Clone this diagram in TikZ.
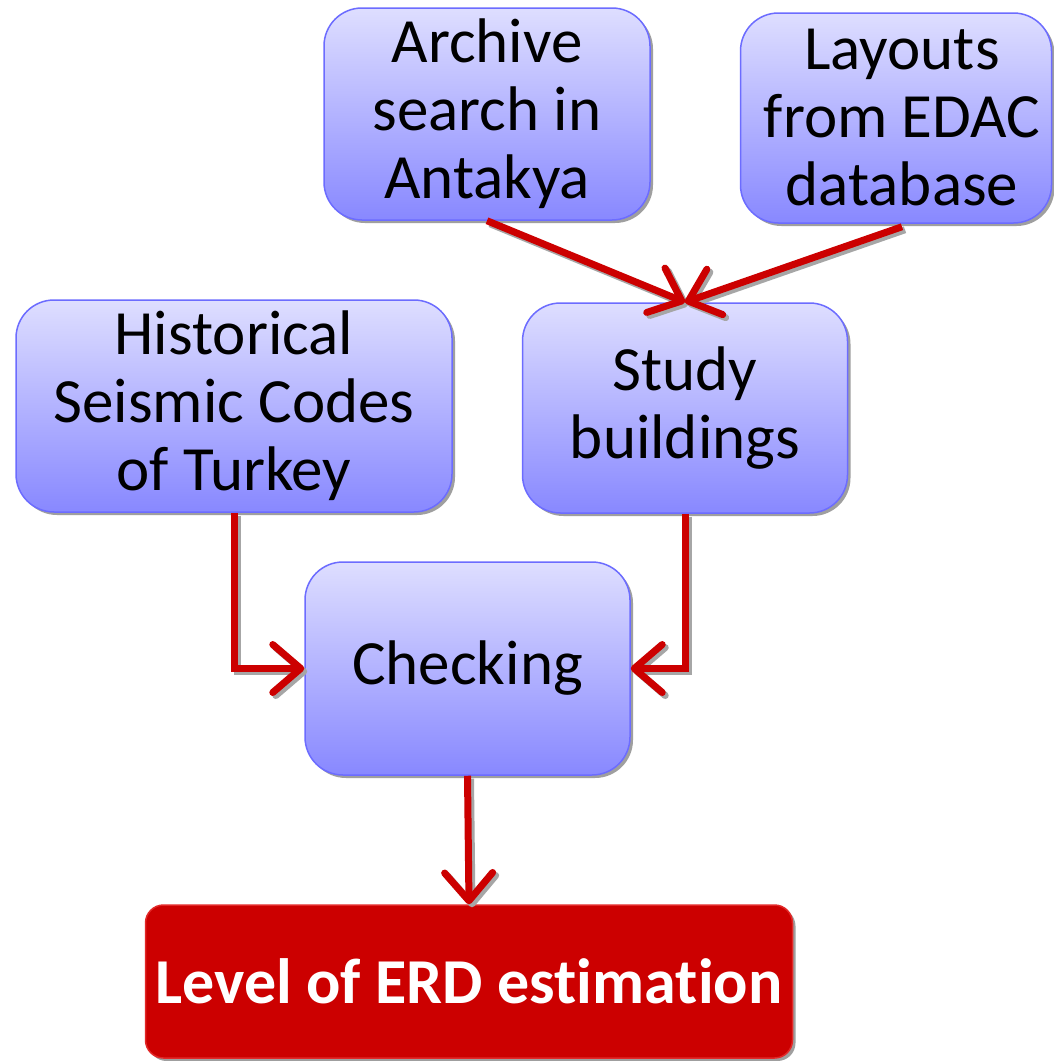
\documentclass[tikz,border=0pt]{standalone}
\usepackage{fontspec}
\setmainfont{Carlito}[Ligatures=NoCommon]
\usetikzlibrary{arrows.meta,shadows}
\definecolor{boxtop}{RGB}{222,222,255}
\definecolor{boxbot}{RGB}{136,136,255}
\definecolor{boxline}{RGB}{108,108,255}
\definecolor{arrred}{RGB}{204,0,0}
\definecolor{redline}{RGB}{226,40,40}
\begin{document}
\begin{tikzpicture}[x=1pt,y=-1pt,
  bluebox/.style={rectangle, rounded corners=38pt, top color=boxtop, bottom color=boxbot,
    draw=boxline, line width=1.5pt, align=center, inner sep=0pt,
    font=\fontsize{63}{68}\selectfont,
    drop shadow={shadow xshift=3pt, shadow yshift=-3pt, fill=gray!75, opacity=1}},
  redbox/.style={rectangle, rounded corners=18pt, fill=arrred, draw=redline, line width=1.5pt,
    align=center, inner sep=0pt, text=white, font=\fontsize{64}{70}\selectfont\bfseries,
    drop shadow={shadow xshift=3pt, shadow yshift=-3pt, fill=gray!75, opacity=1}},
  conn/.style={draw=arrred, line width=7pt, -{Straight Barb[length=28pt,width=48pt,round]}},
  connsh/.style={draw=gray!70, line width=7pt, -{Straight Barb[length=28pt,width=48pt,round]},
    transform canvas={xshift=3pt,yshift=-3pt}}
]
\useasboundingbox (0,0) rectangle (1053,1061);
\fill[white] (0,0) rectangle (1053,1061);

\node[bluebox, minimum width=326pt, minimum height=212pt] (arch) at (487,114) {Archive\\search in\\Antakya};
\node[bluebox, minimum width=311pt, minimum height=210pt] (lay) at (896,118) {\hspace*{12pt}Layouts\\\hspace*{12pt}from EDAC\\\hspace*{12pt}database};
\node[bluebox, minimum width=436pt, minimum height=212pt] (hist) at (234,406) {Historical\\Seismic Codes\\of Turkey};
\node[bluebox, minimum width=325pt, minimum height=210pt] (study) at (685,408) {Study\\buildings};
\node[bluebox, minimum width=325pt, minimum height=213pt] (check) at (467.5,668.5) {Checking};
\node[redbox, minimum width=647pt, minimum height=153pt] (level) at (469,981.5) {Level of ERD estimation};

\coordinate (layout) at ([xshift=6pt,yshift=-3pt]lay.south);

\foreach \s in {connsh,conn}{
  \draw[\s] (arch.south) -- (study.north);
  \draw[\s] (layout) -- (study.north);
  \draw[\s] (hist.south) |- (check.west);
  \draw[\s] (study.south) |- (check.east);
  \draw[\s] (check.south) -- (level.north);
}
\end{tikzpicture}
\end{document}
